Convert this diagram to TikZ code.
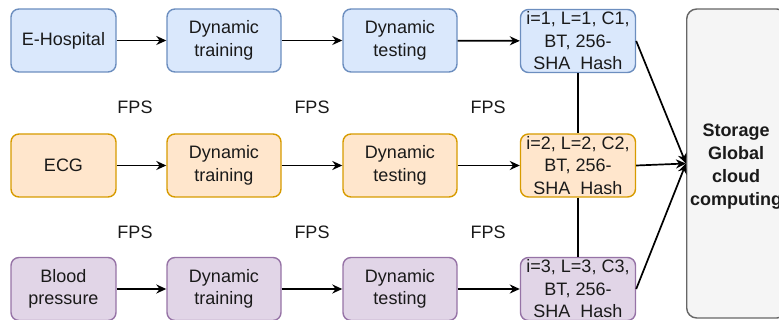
\documentclass[tikz,border=0pt]{standalone}
\usepackage{fontspec}
\setmainfont{Liberation Sans}
\usetikzlibrary{arrows.meta}

\definecolor{blueFill}{HTML}{DAE8FC}
\definecolor{blueLine}{HTML}{6C8EBF}
\definecolor{orangeFill}{HTML}{FFE6CC}
\definecolor{orangeLine}{HTML}{D79B00}
\definecolor{purpleFill}{HTML}{E1D5E7}
\definecolor{purpleLine}{HTML}{9673A6}
\definecolor{greyFill}{HTML}{F5F5F5}
\definecolor{greyLine}{HTML}{666666}
\definecolor{ink}{HTML}{1A1A1A}

\tikzset{
  box/.style={draw, line width=1.4pt, rounded corners=8pt, align=center,
    inner sep=0pt, text=ink,
    font=\fontsize{18}{22.5}\selectfont},
  bluebox/.style={box, fill=blueFill, draw=blueLine},
  orangebox/.style={box, fill=orangeFill, draw=orangeLine},
  purplebox/.style={box, fill=purpleFill, draw=purpleLine},
  srcbox/.style={minimum width=105pt, minimum height=63pt},
  procbox/.style={minimum width=114pt, minimum height=63pt},
  hashbox/.style={minimum width=115pt, minimum height=63pt},
  flow/.style={-{Stealth[length=10pt,width=9pt]}, line width=1.7pt, draw=black},
  link/.style={line width=1.7pt, draw=black},
  lbl/.style={text=ink, font=\fontsize{18}{22.5}\selectfont}
}

\begin{document}
\begin{tikzpicture}[x=1pt, y=-1pt]
  \useasboundingbox (0,0) rectangle (779,320);

  % storage block on the right, partly outside the frame
  \begin{scope}
    \clip (0,0) rectangle (779,320);
    \node[draw=greyLine, fill=greyFill, line width=1.4pt, rounded corners=10pt,
      minimum width=100pt, minimum height=309pt, inner sep=0pt,
      anchor=west] (st) at (686,163.5) {};
    \node[align=center, text=ink, inner sep=0pt,
      font=\bfseries\fontsize{18}{23}\selectfont]
      (sttext) at (736,166.5) {Storage\\Global\\cloud\\computing};
  \end{scope}

  % row 1
  \node[bluebox, srcbox]  (a1) at (63.5,40.5) {E-Hospital};
  \node[bluebox, procbox] (b1) at (224,40.5)  {Dynamic\\training};
  \node[bluebox, procbox] (c1) at (400,40.5)  {Dynamic\\testing};
  \node[bluebox, hashbox] (d1) at (578,41)    {i=1, L=1, C1,\\BT, 256-\\SHA\ \ Hash};

  % row 2
  \node[orangebox, srcbox]  (a2) at (63.5,165.5) {ECG};
  \node[orangebox, procbox] (b2) at (224,165.5)  {Dynamic\\training};
  \node[orangebox, procbox] (c2) at (400,165.5)  {Dynamic\\testing};
  \node[orangebox, hashbox] (d2) at (578,165.5)  {i=2, L=2, C2,\\BT, 256-\\SHA\ \ Hash};

  % row 3
  \node[purplebox, srcbox]  (a3) at (63.5,289) {Blood\\pressure};
  \node[purplebox, procbox] (b3) at (224,289)  {Dynamic\\training};
  \node[purplebox, procbox] (c3) at (400,289)  {Dynamic\\testing};
  \node[purplebox, hashbox] (d3) at (578,289)  {i=3, L=3, C3,\\BT, 256-\\SHA\ \ Hash};

  % FPS labels between rows
  \foreach \x/\n in {135/1, 312/2, 488/3} {
    \node[lbl] (fa\n) at (\x,107) {FPS};
    \node[lbl] (fb\n) at (\x,232) {FPS};
  }

  % flow along each row
  \foreach \r in {1,2,3} {
    \draw[flow] (a\r) -- (b\r);
    \draw[flow] (b\r) -- (c\r);
    \draw[flow] (c\r) -- (d\r);
  }

  % chain between the hash blocks
  \draw[link] (d1) -- (d2);
  \draw[link] (d2) -- (d3);

  % hash blocks into storage
  \draw[flow] (d1.east) -- (st.west);
  \draw[flow] (d2.east) -- (st.west);
  \draw[flow] (d3.east) -- (st.west);
\end{tikzpicture}
\end{document}
